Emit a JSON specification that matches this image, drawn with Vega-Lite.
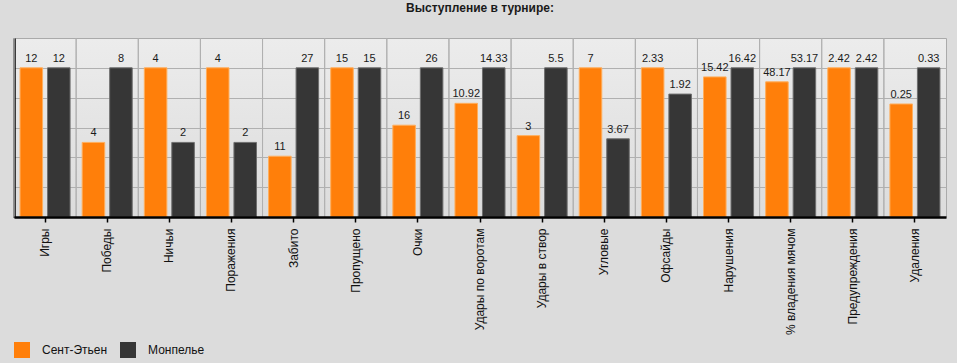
{
  "$schema": "https://vega.github.io/schema/vega-lite/v6.json",
  "autosize": {"type": "none"},
  "width": 932,
  "height": 179,
  "padding": {"left": 14, "top": 38, "right": 11, "bottom": 146},
  "background": "#dcdcdc",
  "title": {
    "text": "Выступление в турнире:",
    "fontSize": 12,
    "fontWeight": "bold",
    "font": "Liberation Sans",
    "color": "#1a1a1a",
    "anchor": "middle",
    "offset": 23
  },
  "config": {
    "font": "Liberation Sans",
    "view": {
      "stroke": "#aaaaaa",
      "fill": {
        "gradient": "linear",
        "x1": 0, "y1": 0, "x2": 0, "y2": 1,
        "stops": [
          {"offset": 0, "color": "#ececec"},
          {"offset": 1, "color": "#dcdcdc"}
        ]
      }
    }
  },
  "data": {
    "values": [
      {"cat": "Игры", "team": "Сент-Этьен", "value": 12},
      {"cat": "Игры", "team": "Монпелье", "value": 12},
      {"cat": "Победы", "team": "Сент-Этьен", "value": 4},
      {"cat": "Победы", "team": "Монпелье", "value": 8},
      {"cat": "Ничьи", "team": "Сент-Этьен", "value": 4},
      {"cat": "Ничьи", "team": "Монпелье", "value": 2},
      {"cat": "Поражения", "team": "Сент-Этьен", "value": 4},
      {"cat": "Поражения", "team": "Монпелье", "value": 2},
      {"cat": "Забито", "team": "Сент-Этьен", "value": 11},
      {"cat": "Забито", "team": "Монпелье", "value": 27},
      {"cat": "Пропущено", "team": "Сент-Этьен", "value": 15},
      {"cat": "Пропущено", "team": "Монпелье", "value": 15},
      {"cat": "Очки", "team": "Сент-Этьен", "value": 16},
      {"cat": "Очки", "team": "Монпелье", "value": 26},
      {"cat": "Удары по воротам", "team": "Сент-Этьен", "value": 10.92},
      {"cat": "Удары по воротам", "team": "Монпелье", "value": 14.33},
      {"cat": "Удары в створ", "team": "Сент-Этьен", "value": 3},
      {"cat": "Удары в створ", "team": "Монпелье", "value": 5.5},
      {"cat": "Угловые", "team": "Сент-Этьен", "value": 7},
      {"cat": "Угловые", "team": "Монпелье", "value": 3.67},
      {"cat": "Офсайды", "team": "Сент-Этьен", "value": 2.33},
      {"cat": "Офсайды", "team": "Монпелье", "value": 1.92},
      {"cat": "Нарушения", "team": "Сент-Этьен", "value": 15.42},
      {"cat": "Нарушения", "team": "Монпелье", "value": 16.42},
      {"cat": "% владения мячом", "team": "Сент-Этьен", "value": 48.17},
      {"cat": "% владения мячом", "team": "Монпелье", "value": 53.17},
      {"cat": "Предупреждения", "team": "Сент-Этьен", "value": 2.42},
      {"cat": "Предупреждения", "team": "Монпелье", "value": 2.42},
      {"cat": "Удаления", "team": "Сент-Этьен", "value": 0.25},
      {"cat": "Удаления", "team": "Монпелье", "value": 0.33}
    ]
  },
  "transform": [
    {"joinaggregate": [{"op": "max", "field": "value", "as": "catMax"}], "groupby": ["cat"]},
    {"calculate": "datum.value / datum.catMax", "as": "share"}
  ],
  "encoding": {
    "x": {
      "field": "cat",
      "type": "nominal",
      "sort": null,
      "scale": {"paddingInner": 0, "paddingOuter": 0},
      "axis": {
        "title": null,
        "labelAngle": -90,
        "labelFontSize": 12,
        "labelColor": "#111111",
        "labelPadding": 6,
        "tickColor": "#000000",
        "tickSize": 5,
        "tickWidth": 1.5,
        "domainColor": "#000000",
        "domainWidth": 2.5,
        "grid": false,
        "zindex": 1
      }
    }
  },
  "layer": [
    {
      "mark": {"type": "rule", "color": "#b0b0b0", "strokeWidth": 1},
      "encoding": {
        "x": {"field": "cat", "type": "nominal", "sort": null, "bandPosition": 0}
      }
    },
    {
      "mark": {"type": "bar", "strokeWidth": 1},
      "encoding": {
        "xOffset": {
          "field": "team",
          "type": "nominal",
          "sort": ["Сент-Этьен", "Монпелье"],
          "scale": {"paddingInner": 0.18, "paddingOuter": 0.22}
        },
        "y": {
          "field": "share",
          "type": "quantitative",
          "scale": {"domain": [0, 1.2], "nice": false},
          "axis": {
            "title": null,
            "labels": false,
            "ticks": false,
            "values": [0.2, 0.4, 0.6, 0.8, 1.0],
            "grid": true,
            "gridColor": "#b0b0b0",
            "gridWidth": 1,
            "domainColor": "#000000",
            "domainWidth": 2.5
          }
        },
        "color": {
          "field": "team",
          "type": "nominal",
          "sort": ["Сент-Этьен", "Монпелье"],
          "scale": {"domain": ["Сент-Этьен", "Монпелье"], "range": ["#ff7f0a", "#363636"]},
          "legend": {
            "title": null,
            "orient": "none",
            "legendX": 0,
            "legendY": 304,
            "direction": "horizontal",
            "padding": 0,
            "symbolType": "square",
            "symbolSize": 256,
            "symbolStrokeWidth": 0,
            "symbolOpacity": 1,
            "labelFontSize": 12,
            "labelColor": "#111111",
            "labelOffset": 12,
            "columnPadding": 12
          }
        },
        "stroke": {
          "field": "team",
          "type": "nominal",
          "scale": {"domain": ["Сент-Этьен", "Монпелье"], "range": ["#ffae5c", "#6e6e6e"]},
          "legend": null
        }
      }
    },
    {
      "mark": {"type": "text", "baseline": "bottom", "dy": -4, "fontSize": 11, "color": "#1a1a1a"},
      "encoding": {
        "xOffset": {"field": "team", "type": "nominal", "sort": ["Сент-Этьен", "Монпелье"]},
        "y": {"field": "share", "type": "quantitative"},
        "text": {"field": "value", "type": "nominal"}
      }
    }
  ]
}
